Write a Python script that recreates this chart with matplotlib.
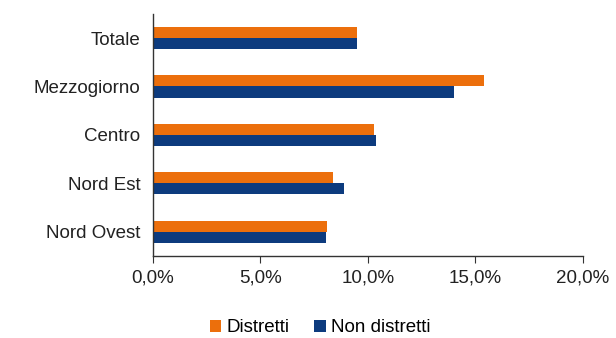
import matplotlib
matplotlib.use("Agg")
import matplotlib.pyplot as plt
from matplotlib.ticker import FuncFormatter
import numpy as np

plt.rcParams["font.family"] = ["Liberation Sans", "DejaVu Sans"]

categories = ["Nord Ovest", "Nord Est", "Centro", "Mezzogiorno", "Totale"]
distretti = [8.1, 8.4, 10.3, 15.4, 9.5]
non_distretti = [8.05, 8.9, 10.4, 14.0, 9.5]

orange = "#EC6F0C"
navy = "#0D3B7E"

fig = plt.figure(figsize=(6.16, 3.38), dpi=100)
ax = fig.add_axes([0.248, 0.243, 0.698, 0.716])

y = np.arange(len(categories))
h = 0.23
ax.barh(y + h / 2, distretti, height=h, color=orange, label="Distretti")
ax.barh(y - h / 2, non_distretti, height=h, color=navy, label="Non distretti")

ax.set_xlim(0, 20)
ax.set_ylim(-0.5, len(categories) - 0.5)
ax.set_xticks([0, 5, 10, 15, 20])
ax.xaxis.set_major_formatter(FuncFormatter(lambda v, p: f"{v:.1f}%".replace(".", ",")))
ax.set_yticks(y)
ax.set_yticklabels(categories)

for s in ["top", "right"]:
    ax.spines[s].set_visible(False)
for s in ["left", "bottom"]:
    ax.spines[s].set_color("#333333")
    ax.spines[s].set_linewidth(1.0)

ax.tick_params(axis="x", length=5, color="#333333", labelsize=13.5, labelcolor="#222222", pad=5)
ax.tick_params(axis="y", length=0, labelsize=13.5, labelcolor="#222222", pad=9)

fig.legend(loc="lower center", bbox_to_anchor=(0.52, -0.045), ncol=2, frameon=False,
           fontsize=13.5, handlelength=0.6, handleheight=0.6, handletextpad=0.3,
           columnspacing=1.3)

fig.savefig("out.png", dpi=100)
